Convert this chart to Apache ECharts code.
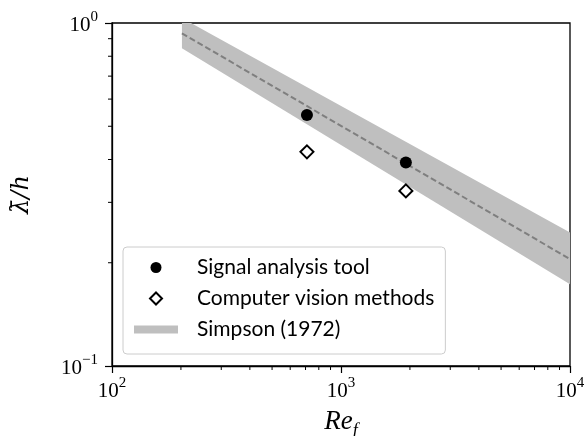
<!DOCTYPE html>
<html>
<head>
<meta charset="utf-8">
<script src="https://cdn.jsdelivr.net/npm/echarts@6/dist/echarts.min.js"></script>
<style>html,body{margin:0;padding:0;background:#fff}#c{width:587px;height:436px}</style>
</head>
<body>
<div id="c"></div>
<script>
// Data
const signalRe = [710, 1920];
const signalLam = [0.539, 0.392];
const visionRe = [710, 1920];
const visionLam = [0.421, 0.324];
const simpsonRe = [202, 10000];
const simpsonMid = [0.933, 0.205];
const simpsonLow = [0.844, 0.173];
const simpsonHigh = [1.034, 0.245];
const xMinor = [200,300,400,500,600,700,800,900,2000,3000,4000,5000,6000,7000,8000,9000];
const yMinor = [0.2,0.3,0.4,0.5,0.6,0.7,0.8,0.9];

const chart = echarts.init(document.getElementById('c'), null, {renderer:'canvas'});

function sup(v){
  const e = Math.round(Math.log10(v));
  return '{b|10}{s|' + (e < 0 ? '\u2212' + (-e) : e) + '}';
}
const richTick = {
  b:{fontFamily:'Liberation Serif', fontSize:21, color:'#000', lineHeight:26, verticalAlign:'bottom'},
  s:{fontFamily:'Liberation Serif', fontSize:15, color:'#000', lineHeight:14, verticalAlign:'top'}
};

// legend icon paths laid out in a 44x13 box
const boxPts = 'M0,0M44,13';
const iconCircle = 'path://' + boxPts + 'M27.5,6.5A5.5,5.5,0,1,1,16.5,6.5A5.5,5.5,0,1,1,27.5,6.5Z';
const iconDiamond = 'path://' + boxPts + 'M22,0.5L28,6.5L22,12.5L16,6.5Z';
const iconRect = 'path://' + boxPts + 'M0,2.5H44V10.5H0Z';

const option = {
  animation:false,
  grid:{left:112, right:17, top:23, bottom:70, outerBoundsMode:'none', containLabel:false,
        show:true, borderColor:'#000', borderWidth:1.3, backgroundColor:'transparent'},
  xAxis:{
    type:'log', logBase:10, min:100, max:10000,
    axisLine:{lineStyle:{color:'#000', width:1.3}},
    axisTick:{inside:false, length:7, lineStyle:{color:'#000', width:1.2}},
    splitLine:{show:false},
    axisLabel:{margin:10, formatter:sup, rich:richTick},
    name:'{i|Re}{f|f}', nameLocation:'middle', nameGap:42,
    nameTextStyle:{rich:{
      i:{fontFamily:'Liberation Serif', fontStyle:'italic', fontSize:27, color:'#000', lineHeight:32, verticalAlign:'top'},
      f:{fontFamily:'Liberation Serif', fontStyle:'italic', fontSize:18, color:'#000', lineHeight:32, verticalAlign:'bottom'}
    }}
  },
  yAxis:{
    type:'log', logBase:10, min:0.1, max:1,
    axisLine:{lineStyle:{color:'#000', width:1.3}},
    axisTick:{inside:false, length:7, lineStyle:{color:'#000', width:1.2}},
    splitLine:{show:false},
    axisLabel:{margin:14, formatter:sup, rich:richTick},
    name:'\u03bb\u0304/h', nameLocation:'middle', nameGap:78, nameRotate:90,
    nameTextStyle:{fontFamily:'DejaVu Serif', fontStyle:'italic', fontSize:24, color:'#000'}
  },
  legend:{
    orient:'vertical', left:123, top:247,
    padding:[10,11,14,10], itemGap:10, itemWidth:44, itemHeight:13,
    symbolKeepAspect:false,
    backgroundColor:'rgba(255,255,255,0.8)', borderColor:'#cccccc', borderWidth:1, borderRadius:4,
    textStyle:{fontFamily:'Lato', fontSize:21, lineHeight:21, color:'#000', padding:[0,0,0,14]},
    data:[
      {name:'Signal analysis tool', icon:iconCircle},
      {name:'Computer vision methods', icon:iconDiamond},
      {name:'Simpson (1972)', icon:iconRect}
    ]
  },
  series:[
    {
      name:'Simpson (1972)', type:'custom', clip:true, silent:true, z:1,
      itemStyle:{color:'#bfbfbf'},
      data:[[simpsonRe[0], simpsonLow[0], simpsonHigh[0], simpsonRe[1], simpsonLow[1], simpsonHigh[1]]],
      encode:{x:[0,3], y:[1,2,4,5]},
      renderItem:function(params, api){
        const p1 = api.coord([api.value(0), api.value(2)]);
        const p2 = api.coord([api.value(3), api.value(5)]);
        const p3 = api.coord([api.value(3), api.value(4)]);
        const p4 = api.coord([api.value(0), api.value(1)]);
        return {type:'polygon', shape:{points:[p1,p2,p3,p4]}, style:{fill:'#bfbfbf'}};
      }
    },
    {
      name:'fit', type:'line', z:2, silent:true, symbol:'none',
      data:simpsonRe.map((x,i)=>[x, simpsonMid[i]]),
      lineStyle:{color:'#7f7f7f', width:2, type:[6,3]}
    },
    {
      name:'Signal analysis tool', type:'scatter', z:3, symbol:'circle', symbolSize:12,
      data:signalRe.map((x,i)=>[x, signalLam[i]]),
      itemStyle:{color:'#000', opacity:1}
    },
    {
      name:'Computer vision methods', type:'scatter', z:3, symbol:'diamond', symbolSize:13,
      data:visionRe.map((x,i)=>[x, visionLam[i]]),
      itemStyle:{color:'#fff', borderColor:'#000', borderWidth:2, opacity:1}
    },
    {
      name:'xminor', type:'custom', clip:false, silent:true, z:4,
      data:xMinor.map(v=>[v, 0.1]),
      renderItem:function(params, api){
        const p = api.coord([api.value(0), api.value(1)]);
        return {type:'line', shape:{x1:p[0], y1:p[1], x2:p[0], y2:p[1]+4}, style:{stroke:'#000', lineWidth:1}};
      }
    },
    {
      name:'yminor', type:'custom', clip:false, silent:true, z:4,
      data:yMinor.map(v=>[100, v]),
      renderItem:function(params, api){
        const p = api.coord([api.value(0), api.value(1)]);
        return {type:'line', shape:{x1:p[0], y1:p[1], x2:p[0]-4, y2:p[1]}, style:{stroke:'#000', lineWidth:1}};
      }
    }
  ]
};
chart.setOption(option);
</script>
</body>
</html>
